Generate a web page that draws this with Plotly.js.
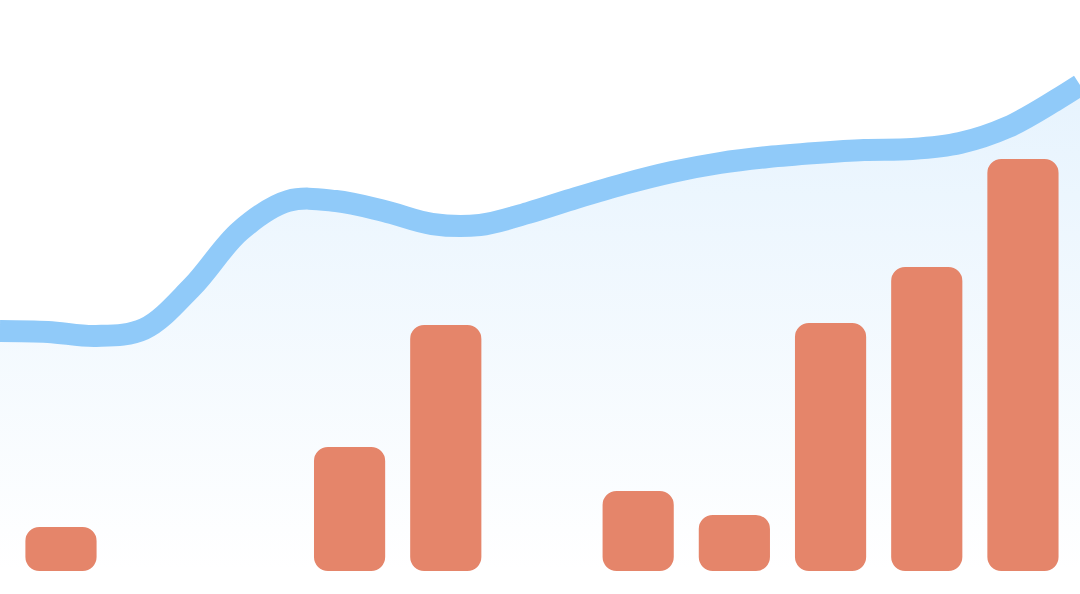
<!DOCTYPE html>
<html>
<head>
<meta charset="utf-8">
<script src="https://cdn.plot.ly/plotly-3.0.1.min.js"></script>
<style>
  html, body { margin: 0; padding: 0; background: #ffffff; }
  #myDiv { width: 1080px; height: 594px; }
</style>
</head>
<body>
<div id="myDiv"></div>
<script>
// bar slots (11) and their values, null = no bar
var slots = [0, 1, 2, 3, 4, 5, 6, 7, 8, 9, 10];
var barValues = [11, null, null, 31, 61.5, null, 20, 14, 62, 76, 103];
var barBase = [0, 0, 0, 0, 0, 0, 0, 0, 0, 0, 0];

// smooth line, every half slot
var lineX = [-0.634, -0.135, 0.364, 0.863, 1.362, 1.861, 2.360, 2.859, 3.358, 3.857, 4.356, 4.855,
             5.354, 5.853, 6.352, 6.851, 7.350, 7.849, 8.348, 8.847, 9.346, 9.845, 10.344, 10.593];
var lineY = [60, 59.75, 58.75, 60.5, 71, 85, 92.5, 92.5, 90, 86.75, 86.5, 89.5,
             93.25, 96.75, 99.75, 102, 103.5, 104.5, 105.25, 105.5, 107, 111, 117.75, 121.5];

var barColor = '#E5856A';
var lineColor = '#90CAF9';

function drawChart(){

    var area = {
        x: lineX,
        y: lineY,
        type: 'scatter',
        mode: 'lines',
        line: {shape: 'spline', smoothing: 1, width: 0, color: lineColor},
        fill: 'tozeroy',
        fillgradient: {
            type: 'vertical',
            colorscale: [[0, 'rgba(144,202,249,0)'], [1, 'rgba(144,202,249,0.22)']]
        },
        hoverinfo: 'skip',
        zorder: -1
    };

    // with an explicit base the rounding goes on both ends of the bar
    var bars = {
        x: slots,
        y: barValues,
        base: barBase,
        type: 'bar',
        width: 0.74,
        marker: {color: barColor, cornerradius: 14, line: {width: 0}},
        zorder: 0
    };

    var line = {
        x: lineX,
        y: lineY,
        type: 'scatter',
        mode: 'lines',
        line: {shape: 'spline', smoothing: 1, width: 22, color: lineColor},
        zorder: 1
    };

    var data = [area, bars, line];
    var layout = {
        width: 1080,
        height: 594,
        margin: {l: 0, r: 0, t: 0, b: 0},
        showlegend: false,
        paper_bgcolor: '#ffffff',
        plot_bgcolor: '#ffffff',
        xaxis: {range: [-0.634, 10.593], showgrid: false, zeroline: false, showticklabels: false, fixedrange: true},
        yaxis: {range: [-5.75, 142.75], showgrid: false, zeroline: false, showticklabels: false, fixedrange: true}
    };
    Plotly.newPlot('myDiv', data, layout, {staticPlot: true});
}

drawChart();
</script>
</body>
</html>
